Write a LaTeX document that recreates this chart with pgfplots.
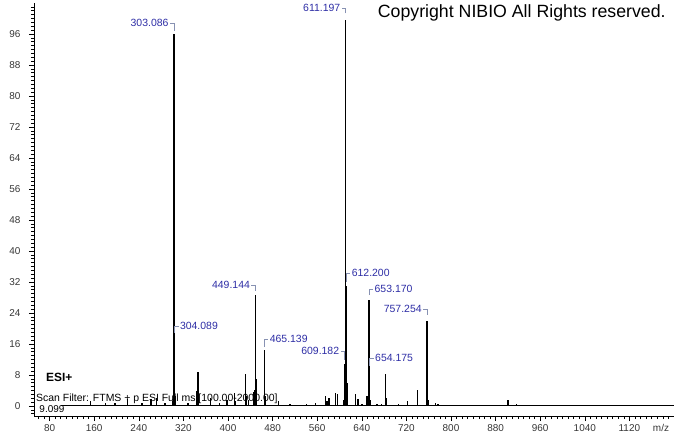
\documentclass[border=0pt]{standalone}
\usepackage{pgfplots}
\pgfplotsset{compat=1.18}
\usepackage{fontspec}
\setmainfont{Liberation Sans}
\definecolor{lblue}{RGB}{45,45,165}
\definecolor{brk}{RGB}{135,145,178}
\definecolor{tickgray}{RGB}{55,55,55}
\newcommand{\peakL}[4]{\draw[brk,line width=0.6bp] (axis cs:#1,#2) -- (axis cs:#1,#3) -- ([xshift=-4bp]axis cs:#1,#3) node[anchor=east,inner sep=1.2bp,text=lblue,font=\fontsize{10.5}{12}\selectfont]{#4};}
\newcommand{\peakR}[4]{\draw[brk,line width=0.6bp] (axis cs:#1,#2) -- (axis cs:#1,#3) -- ([xshift=4bp]axis cs:#1,#3) node[anchor=west,inner sep=1.2bp,text=lblue,font=\fontsize{10.5}{12}\selectfont]{#4};}
\begin{document}
\begin{tikzpicture}
\useasboundingbox (-34bp,-18bp) rectangle (640bp,416bp);
\begin{axis}[
  at={(0,0)}, anchor=south west,
  scale only axis, width=640bp, height=413bp,
  xmin=52, xmax=1200, ymin=-2.6, ymax=104,
  axis x line=bottom, axis y line=left,
  axis line style={-, black, line width=0.8bp},
  xtick={80,160,...,1200}, minor xtick={60,70,...,1190},
  ytick={0,8,...,96}, minor ytick={-2,-1,...,103},
  xticklabels={80,160,240,320,400,480,560,640,720,800,880,960,1040,1120,{}},
  tick align=outside,
  major tick length=5bp, minor tick length=3bp,
  tick style={black, line width=0.6bp},
  xticklabel style={font=\fontsize{10}{12}\selectfont, text=tickgray},
  yticklabel style={font=\fontsize{10}{12}\selectfont, text=tickgray, xshift=-5bp},
  /pgf/number format/assume math mode=true,
  /pgf/number format/set thousands separator={},
  clip=false,
]
% baseline
\addplot[black, line width=1.1bp] coordinates {(100,0) (1200,0)};
% spectrum peaks
\addplot[ycomb, black, line width=1.4bp, mark=none] coordinates {
(153,1.3) (180,0.8) (197,0.8) (220,1.7) (246,0.8) (262,1.8) (272,2.0) (287,0.8)
(301,1.2) (303.086,96) (304.089,18) (305.09,2.5) (328,0.8) (344,3.9) (346.1,8.8) (347.1,2)
(369,2) (385,0.8) (398,1.5) (412,3.4) (413,1.2) (431,8.2) (433,2.5) (437,1.5) (446,3.5) (447.5,4.2)
(449.144,28.6) (450.147,7) (451.15,1.8) (465.139,14.5) (466.14,2.5) (491,1.3) (511,0.5)
(541,0.5) (557,0.7) (575,2.6) (577.6,1.2) (581,2) (593,3.3) (596.7,3) (607,1.5)
(609.182,10.8) (610.19,3) (611.197,99.6) (612.200,31) (613.2,6) (614.2,1.5)
(629,3) (633,1.9) (640,0.6) (649,2.5) (651,1) (653.170,27.4) (654.175,9) (655.18,1.5)
(667,0.5) (675.7,0.5) (682.5,8.3) (683.5,2) (705.5,0.5) (721.6,1.3) (740,4)
(757.254,22) (758.26,8.2) (759.26,1.5) (772,0.8) (777,0.6)
(884,0.3) (902,1.6) (903,0.4) (918,0.5) (934.5,0.3) (1049,0.3) (1065,0.3)
};
\peakL{303.086}{96.8}{98.84}{303.086}
\peakL{611.197}{101.3}{102.7}{611.197}
\peakR{612.200}{32.0}{34.3}{612.200}
\peakR{653.170}{28.6}{30.2}{653.170}
\peakL{757.254}{23.5}{25.0}{757.254}
\peakL{609.182}{11.9}{14.2}{609.182}
\peakR{654.175}{10.3}{12.4}{654.175}
\peakL{449.144}{29.7}{31.2}{449.144}
\peakR{465.139}{15.2}{17.3}{465.139}
\peakR{304.089}{18.8}{20.6}{304.089}
\end{axis}
\node[anchor=base west, inner sep=0, font=\fontsize{17.8}{20}\selectfont] at (343.7bp,398bp) {Copyright NIBIO All Rights reserved.};
\node[anchor=base west, inner sep=0, font=\fontsize{12}{14}\selectfont\bfseries] at (12bp,35bp) {ESI+};
\node[anchor=base west, inner sep=0, font=\fontsize{10.5}{12}\selectfont] at (2bp,15bp) {Scan Filter: FTMS + p ESI Full ms [100.00-2000.00]};
\node[anchor=base west, inner sep=0, font=\fontsize{10}{12}\selectfont] at (5.3bp,4bp) {9.099};
\node[anchor=base, inner sep=0, font=\fontsize{10}{12}\selectfont, text=tickgray] at (627bp,-15bp) {m/z};
\end{tikzpicture}
\end{document}
